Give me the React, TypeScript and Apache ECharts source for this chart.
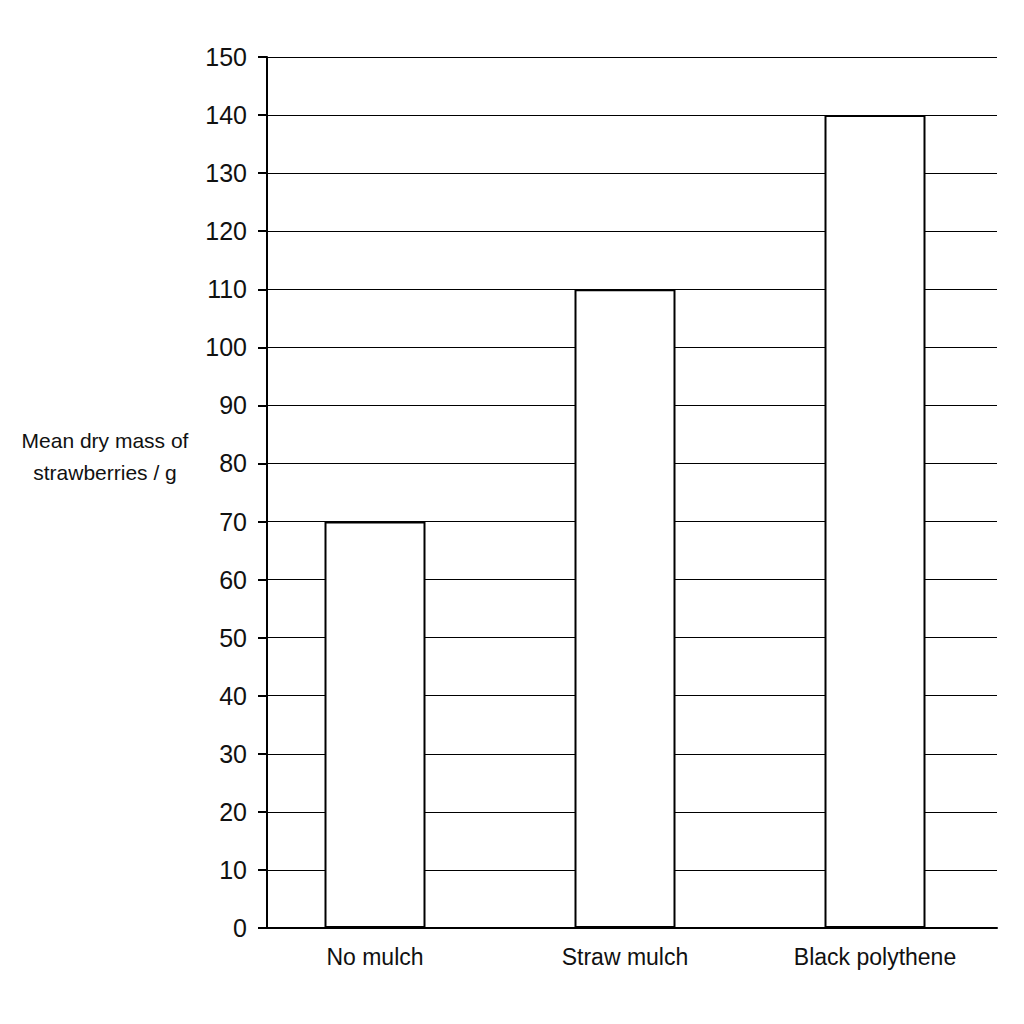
import { useEffect, useRef } from "react";
import * as echarts from "echarts";

const categories = ["No mulch", "Straw mulch", "Black polythene"];
const dryMass = [70, 110, 140];
const yMin = 0;
const yMax = 150;
const yStep = 10;
const yTitle = "Mean dry mass of\nstrawberries / g";

const FONT = "'Liberation Sans', Arial, sans-serif";

export default function App() {
  const chartRef = useRef<HTMLDivElement>(null);

  useEffect(() => {
    document.body.style.margin = "0";
    if (!chartRef.current) return;
    const chart = echarts.init(chartRef.current, undefined, { renderer: "svg" });

    const option: echarts.EChartsOption = {
      animation: false,
      backgroundColor: "#ffffff",
      textStyle: { fontFamily: FONT },
      grid: [
        // axes and grid lines
        { left: 267, right: 27, top: 57, bottom: 96 },
        // bars
        { left: 250, right: 24, top: 57, bottom: 96 },
      ],
      xAxis: [
        {
          type: "value",
          gridIndex: 0,
          min: 0,
          max: 1,
          axisLine: { show: true, lineStyle: { color: "#000", width: 2 } },
          axisTick: { show: false },
          axisLabel: { show: false },
          splitLine: { show: false },
        },
        {
          type: "category",
          gridIndex: 1,
          data: categories,
          axisLine: { show: false },
          axisTick: { show: false },
          axisLabel: {
            color: "#111",
            fontSize: 23,
            fontFamily: FONT,
            margin: 17,
          },
        },
      ],
      yAxis: [
        {
          type: "value",
          gridIndex: 0,
          min: yMin,
          max: yMax,
          interval: yStep,
          axisLine: { show: true, lineStyle: { color: "#000", width: 2 } },
          axisTick: { show: true, length: 9, lineStyle: { color: "#000", width: 2 } },
          axisLabel: {
            color: "#111",
            fontSize: 25,
            fontFamily: FONT,
            margin: 20,
          },
          splitLine: { show: true, lineStyle: { color: "#000", width: 1 } },
        },
        {
          type: "value",
          gridIndex: 1,
          min: yMin,
          max: yMax,
          show: false,
        },
      ],
      graphic: [
        {
          type: "text",
          x: 105,
          y: 456,
          style: {
            text: yTitle,
            fontSize: 21,
            fontFamily: FONT,
            fill: "#111",
            align: "center",
            verticalAlign: "middle",
            lineHeight: 32,
          },
        },
      ],
      series: [
        {
          type: "bar",
          xAxisIndex: 1,
          yAxisIndex: 1,
          data: dryMass,
          barWidth: 101,
          itemStyle: { color: "#ffffff", borderColor: "#000", borderWidth: 2 },
        },
      ],
    };

    chart.setOption(option);
    return () => chart.dispose();
  }, []);

  return <div ref={chartRef} style={{ width: 1024, height: 1024 }} />;
}
